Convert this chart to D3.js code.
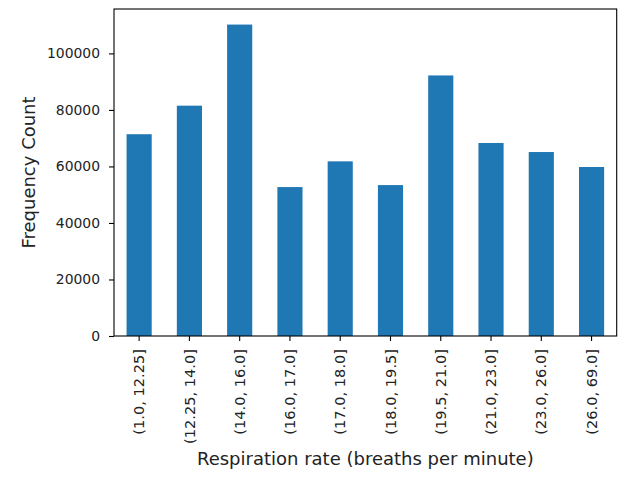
<!DOCTYPE html>
<html lang="en">
<head>
  <meta charset="UTF-8">
  <title>Respiration rate histogram</title>
  <script src="https://d3js.org/d3.v7.min.js"></script>
  <style>
    body { margin: 0; background: #fff; }
    text { font-family: "DejaVu Sans", sans-serif; fill: #222; }
  </style>
</head>
<body>
  <svg id="chart" width="635" height="490"></svg>

  <script>
    const categories = ["(1.0, 12.25]", "(12.25, 14.0]", "(14.0, 16.0]", "(16.0, 17.0]", "(17.0, 18.0]",
                        "(18.0, 19.5]", "(19.5, 21.0]", "(21.0, 23.0]", "(23.0, 26.0]", "(26.0, 69.0]"];
    const counts = [71400, 81500, 110200, 52700, 61800, 53400, 92200, 68300, 65100, 59800];
    const yTicks = [0, 20000, 40000, 60000, 80000, 100000];

    const width = 635;
    const height = 490;
    const margin = { top: 9, right: 18.3, bottom: 154, left: 114 };
    const chartWidth = width - margin.left - margin.right;
    const chartHeight = height - margin.top - margin.bottom;

    const svg = d3.select("#chart");
    const g = svg.append("g").attr("transform", `translate(${margin.left}, ${margin.top})`);

    const x = d3.scaleBand()
      .domain(categories)
      .range([0, chartWidth])
      .paddingInner(0.5)
      .paddingOuter(0.25);

    const yMax = d3.max(counts) * 1.05;
    const y = d3.scaleLinear().domain([0, yMax]).range([chartHeight, 0]);

    // bars
    g.selectAll(".bar")
      .data(counts)
      .enter()
      .append("rect")
      .attr("class", "bar")
      .attr("x", (d, i) => x(categories[i]))
      .attr("y", d => y(d))
      .attr("width", x.bandwidth())
      .attr("height", d => chartHeight - y(d))
      .attr("fill", "#1f77b4");

    // axes
    const yAxis = g.append("g")
      .call(d3.axisLeft(y).tickValues(yTicks).tickFormat(d3.format("d")).tickSize(5).tickPadding(9));
    yAxis.selectAll("text").style("font-size", "13.9px");

    const xAxis = g.append("g")
      .attr("transform", `translate(0, ${chartHeight})`)
      .call(d3.axisBottom(x).tickSize(5).tickPadding(7));
    xAxis.selectAll("text")
      .style("font-size", "14.6px")
      .attr("transform", "rotate(-90)")
      .attr("text-anchor", "end")
      .attr("x", -13)
      .attr("y", 0)
      .attr("dy", "0.35em");

    [xAxis, yAxis].forEach(a => {
      a.select(".domain").remove();
      a.selectAll("line").attr("stroke", "#000").attr("stroke-width", 1.1);
    });

    // frame
    g.append("rect")
      .attr("width", chartWidth)
      .attr("height", chartHeight)
      .attr("fill", "none")
      .attr("stroke", "#000")
      .attr("stroke-width", 1.1);

    // axis labels
    svg.append("text")
      .attr("x", margin.left + chartWidth / 2)
      .attr("y", 465)
      .attr("text-anchor", "middle")
      .style("font-size", "18px")
      .text("Respiration rate (breaths per minute)");

    svg.append("text")
      .attr("transform", `translate(29, ${margin.top + chartHeight / 2}) rotate(-90)`)
      .attr("text-anchor", "middle")
      .attr("dy", "0.35em")
      .style("font-size", "18px")
      .text("Frequency Count");
  </script>
</body>
</html>
